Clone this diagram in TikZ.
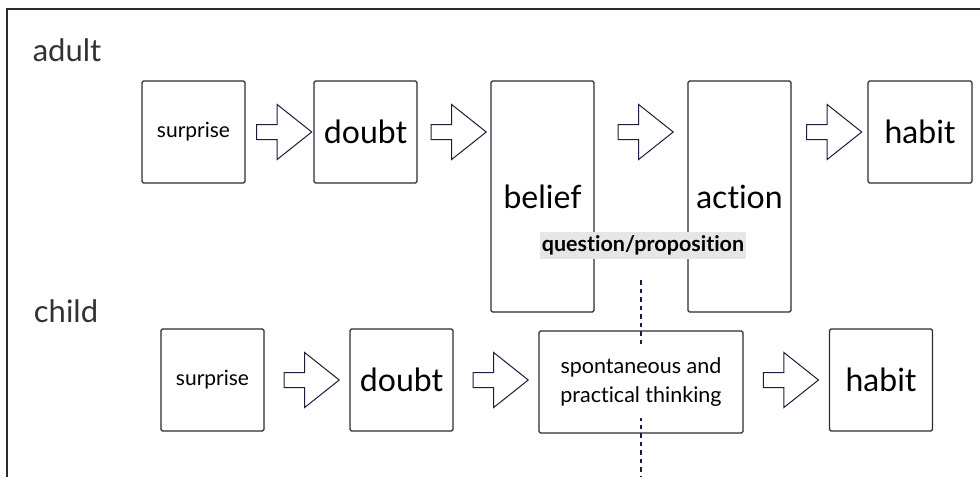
\documentclass[tikz,border=0pt]{standalone}
\usepackage{fontspec}
\setmainfont{Lato}[Ligatures=NoCommon]
\usetikzlibrary{shapes.arrows,calc}

\definecolor{boxline}{HTML}{2B2B2B}
\definecolor{arrline}{HTML}{1E1C3C}
\definecolor{tagfill}{HTML}{E6E6E6}
\definecolor{rowtext}{HTML}{333333}

\begin{document}
\begin{tikzpicture}[x=1pt, y=-1pt,
  stage/.style={draw=boxline, line width=1.3pt, rounded corners=1.5pt,
    minimum width=103pt, minimum height=102pt, inner sep=0pt},
  tall/.style={stage, minimum height=231pt},
  flow/.style={shape=single arrow, draw=arrline, line width=1pt, fill=white,
    minimum width=54pt, minimum height=55pt, inner sep=7pt,
    single arrow head extend=20pt, single arrow tip angle=77},
  big/.style={font=\fontsize{32}{36}\selectfont},
  small/.style={font=\fontsize{21}{25}\selectfont},
  rowname/.style={font=\fontsize{31}{36}\selectfont, text=rowtext}]

\newcommand\rowA{132};
\newcommand\rowB{380};

\useasboundingbox (0,0) rectangle (980,477); %% page

%% frame, open to the right and below
\draw[boxline, line width=1.5pt] (7,477) -- (7,9) -- (980,9);

\node[rowname] (adult) at (67,50) {adult};
\node[rowname] (child) at (66,311) {child};

%% adult
\node[stage, small] (as) at (193.5,\rowA) {surprise};
\node[stage, big] (ad) at (365.5,\rowA) {doubt};
\node[tall, big] (ab) at (542.5,196.5) {belief};
\node[tall, big] (ac) at (739.5,196.5) {action};
\node[stage, big, minimum width=104pt] (ah) at (920,\rowA) {habit};

\node[flow] (a1) at ($(as.east)!0.5!(ad.west)$) {};
\node[flow] (a2) at ($(ad.east)!0.5!(ab.west|-ad.west)$) {};
\node[flow] (a3) at ($(ab.east|-ad.east)!0.5!(ac.west|-ad.west)$) {};
\node[flow] (a4) at ($(ac.east|-ah.west)!0.5!(ah.west)$) {};

%% child
\coordinate (cuttop) at (641,280);
\coordinate (cutend) at (641,477);
\draw[arrline, line width=2.8pt, dash pattern=on 4.5pt off 4pt] (cuttop) -- (cutend);

\node[stage, small] (cs) at (212.5,\rowB) {surprise};
\node[stage, big] (cd) at (401.5,\rowB) {doubt};
\node[stage, minimum width=204pt, font=\fontsize{21.5}{29}\selectfont] (ct) at (641,382)
  {\setlength\fboxsep{7pt}\colorbox{white}{\begin{tabular}{@{}c@{}}spontaneous and\\practical thinking\end{tabular}}};
\node[stage, big] (ch) at (881,\rowB) {habit};

\node[flow] (c1) at ($(cs.east)!0.5!(cd.west)$) {};
\node[flow] (c2) at ($(cd.east)!0.5!(ct.west|-cd.west)$) {};
\node[flow] (c3) at ($(ct.east|-ch.west)!0.5!(ch.west)$) {};

\node[fill=tagfill, inner xsep=1.5pt, inner ysep=2pt, minimum height=27pt,
  font=\bfseries\fontsize{21.5}{25}\selectfont] (tag) at (643,245) {question/proposition};

\end{tikzpicture}
\end{document}
